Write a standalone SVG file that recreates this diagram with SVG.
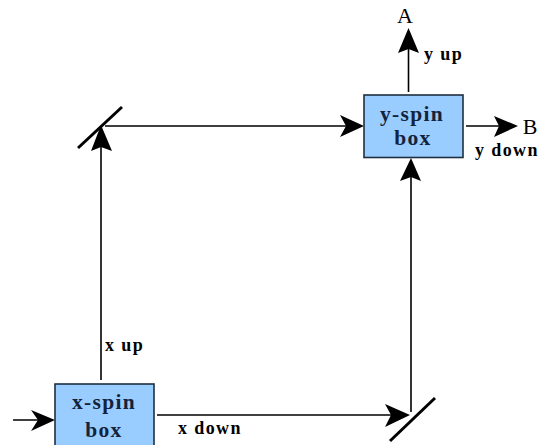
<svg xmlns="http://www.w3.org/2000/svg" width="540" height="445" viewBox="0 0 540 445">
<style>
.box{fill:#99ccff;stroke:#1f2f3f;stroke-width:1.6}
.line{stroke:#000;stroke-width:1.6;fill:none}
.mirror{stroke:#000;stroke-width:3;fill:none}
.head{fill:#000}
text{font-family:"Liberation Serif","DejaVu Serif",serif;font-weight:bold;fill:#000}
.nl{font-size:21.500px;text-anchor:middle;fill:#14233c;letter-spacing:1.300px}
.lb{font-size:18px;letter-spacing:1.400px}
.big{font-size:22px;font-weight:normal}
</style>
<rect width="540" height="445" fill="#fff"/>
<g id="connectors">
<path class="line" d="M13 420H48"/>
<path class="head" d="M31 410L55 420L31 431L38 420Z"/>
<path class="line" d="M101 380V145"/>
<path class="head" d="M101 125L112 151L101 147L91 151Z"/>
<path class="line" d="M157 415H395"/>
<path class="head" d="M410 415L385 404L391 415L385 427Z"/>
<path class="line" d="M411 412V175"/>
<path class="head" d="M411 158L400 181L411 177L421 181Z"/>
<path class="line" d="M105 126H350"/>
<path class="head" d="M364 126L340 115L346 126L340 137Z"/>
<path class="line" d="M408.500 92V45"/>
<path class="head" d="M408.500 28L398 53L408.500 49L419 53Z"/>
<path class="line" d="M466 126H505"/>
<path class="head" d="M518 126L494 116L499 126L494 137Z"/>
<path class="mirror" d="M78 148L122 107"/>
<path class="mirror" d="M390 441L435 398"/>
</g>
<g id="x-spin-box">
<rect class="box" x="55" y="384" width="99" height="70"/>
<text class="nl" x="104" y="409">x-spin</text>
<text class="nl" x="104" y="437">box</text>
</g>
<g id="y-spin-box">
<rect class="box" x="364" y="95" width="99" height="62.500"/>
<text class="nl" x="412" y="121">y-spin</text>
<text class="nl" x="413" y="145">box</text>
</g>
<g id="labels">
<text class="big" x="405" y="23" text-anchor="middle">A</text>
<text class="big" x="530" y="134" text-anchor="middle">B</text>
<text class="lb" x="424" y="60">y up</text>
<text class="lb" x="475" y="156">y down</text>
<text class="lb" x="105" y="351">x up</text>
<text class="lb" x="178" y="434">x down</text>
</g>
</svg>
